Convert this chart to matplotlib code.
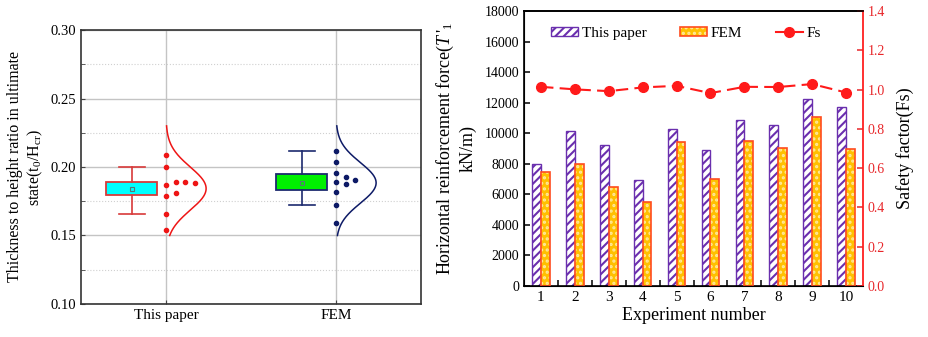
import numpy as np
import matplotlib
matplotlib.use("Agg")
import matplotlib.pyplot as plt
from matplotlib.ticker import MultipleLocator, FormatStrFormatter, FixedLocator
from matplotlib.patches import Patch
from matplotlib.lines import Line2D

plt.rcParams['font.family'] = ['Liberation Serif', 'DejaVu Serif']
plt.rcParams['mathtext.fontset'] = 'custom'
plt.rcParams['mathtext.rm'] = 'Liberation Serif'
plt.rcParams['mathtext.it'] = 'Liberation Serif:italic'
plt.rcParams['hatch.linewidth'] = 1.5

# ---------------- data ----------------
groups = ['This paper', 'FEM']
ratio_this = [0.209, 0.200, 0.187, 0.179, 0.166, 0.154, 0.1893, 0.1888, 0.1813, 0.1883]
ratio_fem = [0.2115, 0.2034, 0.1954, 0.182, 0.172, 0.1594, 0.1929, 0.1893, 0.1905, 0.1878]

exp_labels = ['1', '2', '3', '4', '5', '6', '7', '8', '9', '10']
force_this = [8000, 10150, 9260, 6950, 10250, 8910, 10880, 10530, 12250, 11690]
force_fem = [7480, 8000, 6510, 5520, 9400, 6990, 9480, 9020, 11030, 9000]
fs = [1.014, 1.001, 0.992, 1.011, 1.019, 0.982, 1.014, 1.013, 1.028, 0.985]

# ---------------- figure ----------------
fig = plt.figure(figsize=(9.29, 3.37), dpi=100)

# ---- left panel ----
ax1 = fig.add_axes([81/929, 1-304/337, 340/929, 274/337])
styles = [
    dict(face='#00ffff', edge='#d83a3a', pt='#ee1515'),
    dict(face='#00f000', edge='#1c2a6e', pt='#0d1a66'),
]


def swarm_columns(values, d):
    placed = {}
    cols = []
    for v in values:
        c = 0
        while any(abs(v - u) < d for u in placed.get(c, [])):
            c += 1
        placed.setdefault(c, []).append(v)
        cols.append(c)
    return np.array(cols)


for i, (vals, st) in enumerate(zip([ratio_this, ratio_fem], styles)):
    p = i + 1
    vals = np.array(vals)
    ax1.boxplot(vals, positions=[p - 0.2], widths=0.3, patch_artist=True,
                showfliers=False, showmeans=True, capwidths=0.155,
                boxprops=dict(facecolor=st['face'], edgecolor=st['edge'], linewidth=1.3),
                whiskerprops=dict(color=st['edge'], linewidth=1.2),
                capprops=dict(color=st['edge'], linewidth=1.2),
                medianprops=dict(visible=False),
                meanprops=dict(marker='s', markersize=3.5, markerfacecolor='none',
                               markeredgecolor='#557777', markeredgewidth=0.8),
                manage_ticks=False, zorder=3)
    cols = swarm_columns(vals, 0.004)
    ax1.plot(p + cols * 0.057, vals, 'o', ms=3, color=st['pt'], zorder=4)
    m, s = vals.mean(), vals.std(ddof=1)
    yy = np.linspace(0.15, 0.23, 300)
    ax1.plot(p + 0.236 * np.exp(-0.5 * ((yy - m) / s) ** 2), yy,
             color=st['pt'], lw=1.1, zorder=4)

ax1.set_xlim(0.5, 2.5)
ax1.set_ylim(0.10, 0.30)
ax1.set_xticks([1, 2])
ax1.set_xticklabels(groups, fontsize=11)
ax1.yaxis.set_major_locator(MultipleLocator(0.05))
ax1.yaxis.set_minor_locator(MultipleLocator(0.025))
ax1.yaxis.set_major_formatter(FormatStrFormatter('%.2f'))
ax1.tick_params(axis='y', labelsize=10.5)
ax1.tick_params(which='both', direction='in', length=3, color='#444444')
ax1.grid(axis='y', which='major', color='#c4c4c4', lw=1.0)
ax1.grid(axis='y', which='minor', color='#d0d0d0', lw=0.8, ls=':')
ax1.grid(axis='x', which='major', color='#c4c4c4', lw=1.0)
ax1.set_axisbelow(True)
for sp in ax1.spines.values():
    sp.set_color('#333333')
    sp.set_linewidth(1.2)
ax1.set_ylabel('Thickness to height ratio in ultimate\nstate(t$_0$/H$_\\mathrm{cr}$)',
               fontsize=11.5, labelpad=4)

# ---- right panel ----
ax2 = fig.add_axes([524/929, 1-286/337, 339/929, 275/337])
x = np.arange(1, len(exp_labels) + 1)
w = 0.26
purple = '#6a2fae'
ax2.bar(x - w/2, force_this, w, facecolor='white', edgecolor=purple,
        hatch='////', linewidth=1.0, zorder=2)
ax2.bar(x + w/2, force_fem, w, color='#ffc000', edgecolor='#ffe89a',
        hatch='...', linewidth=0, zorder=2)
ax2.bar(x + w/2, force_fem, w, fill=False, edgecolor='#ff4b1f',
        linewidth=1.2, zorder=3)
ax2.set_xlim(0.5, 10.5)
ax2.set_ylim(0, 18000)
ax2.set_xticks(x)
ax2.set_xticklabels(exp_labels, fontsize=11)
ax2.xaxis.set_minor_locator(FixedLocator(x[:-1] + 0.5))
ax2.yaxis.set_major_locator(MultipleLocator(2000))
ax2.tick_params(axis='y', labelsize=10)
ax2.tick_params(which='both', direction='in', length=4, width=1.1)
ax2.spines['right'].set_visible(False)
for k in ['left', 'top', 'bottom']:
    ax2.spines[k].set_linewidth(1.2)
ax2.set_xlabel('Experiment number', fontsize=13, labelpad=2)
ax2.set_ylabel("Horizontal reinforcement force($T\\,'_1$\nkN/m)", fontsize=13,
               labelpad=6)

ax3 = ax2.twinx()
ax3.plot(x, fs, color='#ff1a1a', ls=(0, (6, 3)), lw=1.5, marker='o', ms=7,
         markerfacecolor='#ff1a1a', markeredgecolor='#ff1a1a', zorder=5)
ax3.set_ylim(0, 1.4)
ax3.yaxis.set_major_locator(MultipleLocator(0.2))
ax3.yaxis.set_major_formatter(FormatStrFormatter('%.1f'))
ax3.tick_params(axis='y', direction='in', length=4, width=1.1, colors='#e8262a',
                labelsize=10)
ax3.spines['right'].set_color('#ff2020')
ax3.spines['right'].set_linewidth(1.3)
ax3.spines['top'].set_linewidth(1.2)
ax3.set_ylabel('Safety factor(Fs)', fontsize=13, labelpad=8)

h1 = Patch(facecolor='white', edgecolor=purple, hatch='////', linewidth=1.0)
h2 = (Patch(facecolor='#ffc000', edgecolor='#ffe89a', hatch='...', linewidth=0),
      Patch(fill=False, edgecolor='#ff4b1f', linewidth=1.2))
h3 = Line2D([], [], color='#ff1a1a', ls='-', lw=1.5, marker='o', ms=7)
ax3.legend([h1, h2, h3], ['This paper', 'FEM', 'Fs'], ncol=3, frameon=False,
           loc='center left', bbox_to_anchor=(551/929, 1-33.7/337),
           bbox_transform=fig.transFigure, borderpad=0, borderaxespad=0,
           fontsize=11, handlelength=1.8, handleheight=0.55,
           handletextpad=0.2, columnspacing=2.2)

fig.savefig('out.png', dpi=100)
